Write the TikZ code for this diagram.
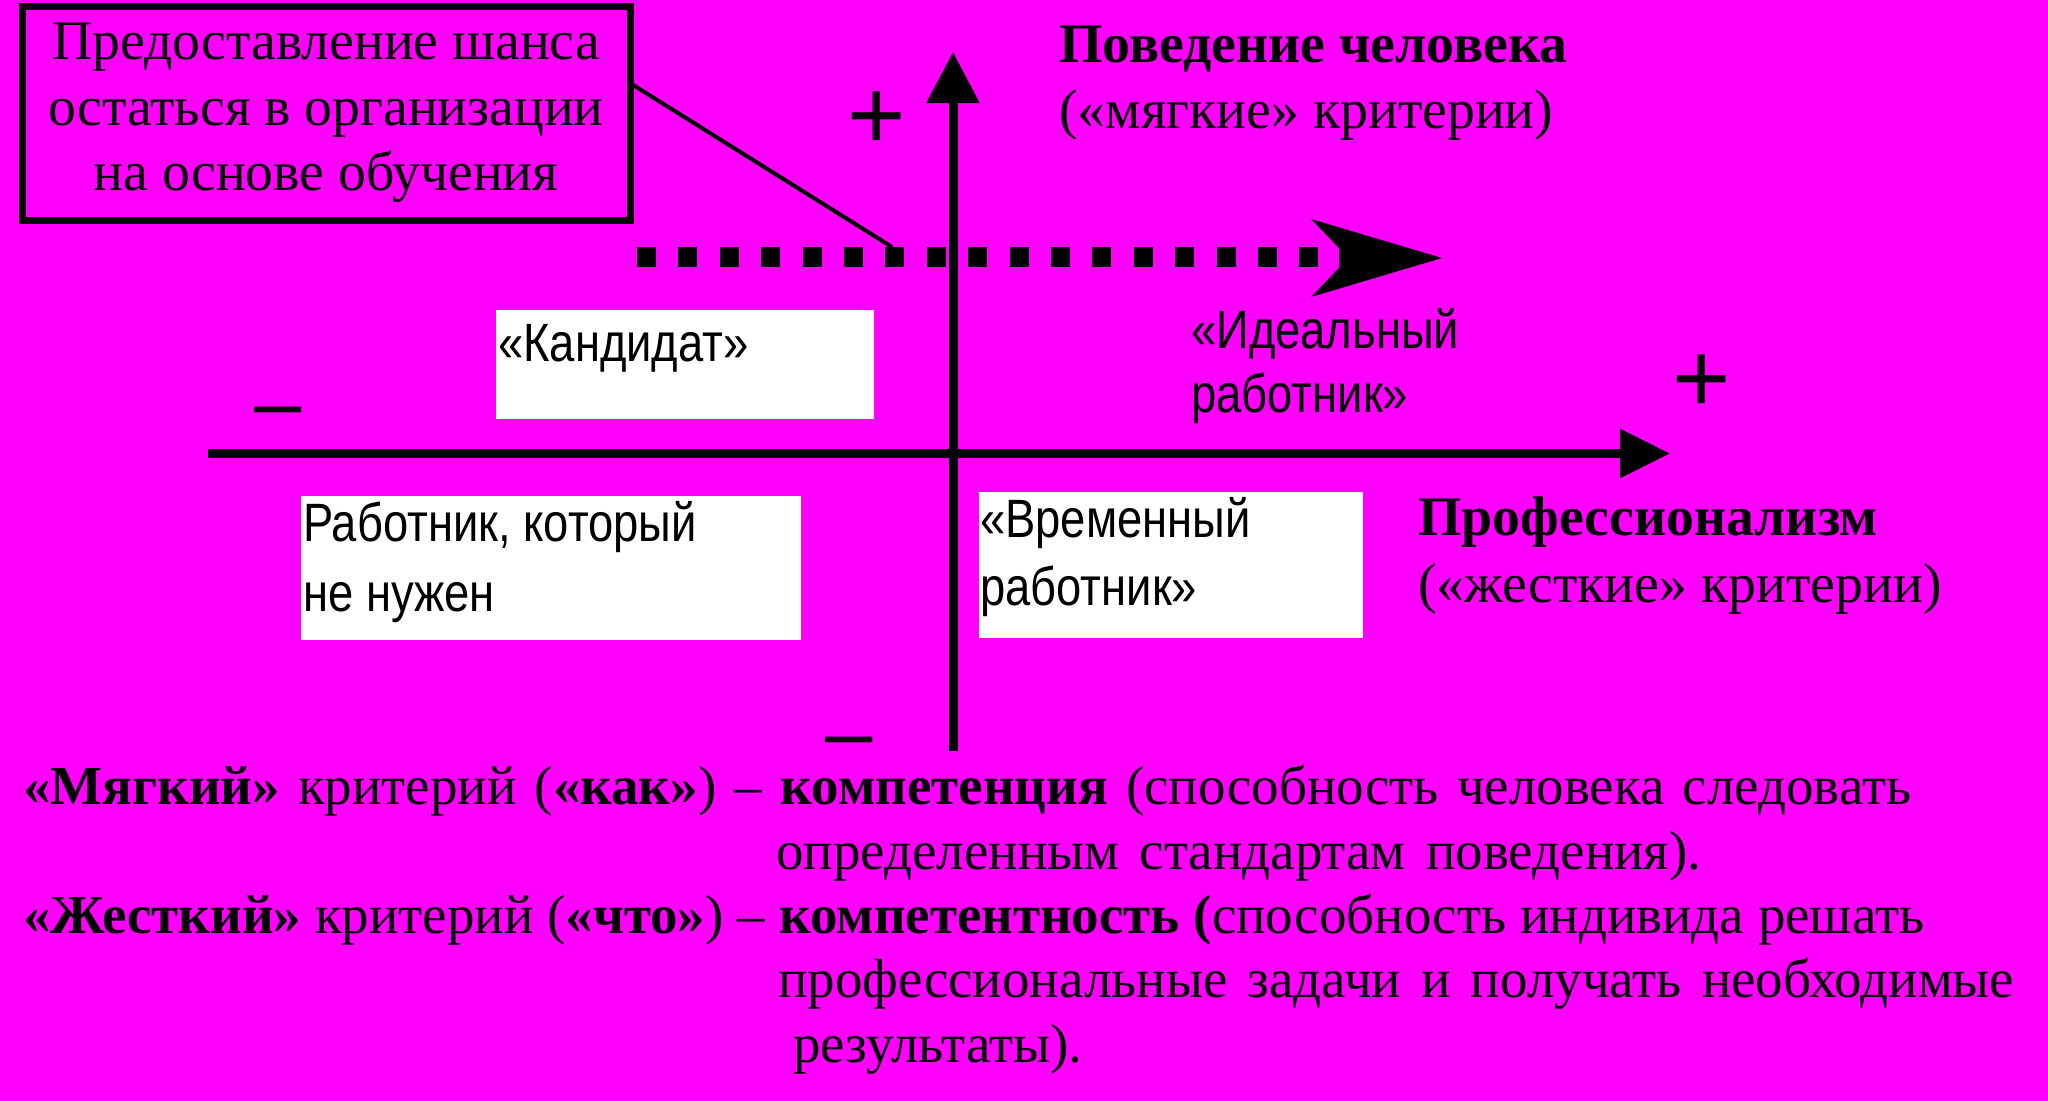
\documentclass[tikz,border=0pt]{standalone}
\usepackage{fontspec}
\setmainfont{Liberation Serif}
\newfontfamily\narrowsans[FakeStretch=0.84]{Liberation Sans}
\newfontfamily\signfont{Liberation Sans}
\usetikzlibrary{arrows.meta}
\definecolor{bgmag}{RGB}{255,0,255}
\tikzset{
  axisline/.style={line width=9pt},
  serif/.style={font=\fontsize{55}{66}\selectfont, inner sep=0pt, anchor=base west},
  axislab/.style={font=\fontsize{55.8}{66}\selectfont, inner sep=0pt, anchor=base west},
  axislabbold/.style={font=\bfseries\fontsize{55.8}{66}\selectfont, inner sep=0pt, anchor=base west},
  sanslab/.style={font=\narrowsans\fontsize{54}{68}\selectfont, inner sep=0pt, anchor=base west},
  whitebox/.style={fill=white, draw=none, inner sep=0pt, outer sep=0pt, anchor=north west},
  chancebox/.style={draw=black, line width=7pt, minimum width=608pt, minimum height=214pt,
    inner sep=0pt, outer sep=0pt, align=center, font=\fontsize{55.7}{65.5}\selectfont},
  sign/.style={font=\signfont\fontsize{100}{100}\selectfont, inner sep=0pt, anchor=north},
  signdash/.style={font=\signfont\fontsize{85}{85}\selectfont, inner sep=0pt, anchor=north},
  callout/.style={line width=4pt},
}
\begin{document}
\begin{tikzpicture}[x=1pt,y=-1pt]
\useasboundingbox (0,0) rectangle (2048,1101);
\fill[bgmag] (0,0) rectangle (2048,1101);
% white boxes
\node[whitebox, minimum width=378pt, minimum height=109pt] (candbox) at (496,310) {};
\node[whitebox, minimum width=500pt, minimum height=144pt] (notbox) at (301,496) {};
\node[whitebox, minimum width=384pt, minimum height=146pt] (tempbox) at (979,492) {};
% callout box
\node[chancebox] (chance) at (326,113) {Предоставление шанса\\остаться в организации\\на основе обучения};
% axes
\coordinate (vbot) at (953,751);
\coordinate (vtop) at (953,52);
\draw[axisline, -{Triangle[length=51pt,width=51pt]}] (vbot) -- (vtop);
\coordinate (hleft) at (208,453.5);
\coordinate (hright) at (1670,453.5);
\draw[axisline, -{Triangle[length=50pt,width=47pt]}] (hleft) -- (hright);
% dotted arrow
\coordinate (dstart) at (637,257);
\coordinate (dend) at (1319,257);
\draw[line width=20pt, dash pattern=on 19pt off 22.4pt] (dstart) -- (dend);
\fill (1311,219) -- (1442,258) -- (1311,297) -- (1339,268) -- (1339,248) -- cycle;
% callout line
\coordinate (calloutend) at (892,247);
\draw[callout] ([yshift=-77pt]chance.north east) -- (calloutend);
% signs
\node[sign] (plusv) at (877,92) {+};
\node[sign] (plush) at (1702,355) {+};
\node[signdash] (minush) at (278,407) {–};
\node[signdash] (minusv) at (849,737) {–};
% axis labels
\node[axislabbold] (beh) at (1059,62) {Поведение человека};
\node[axislab] (behsub) at (1059,128) {(«мягкие» критерии)};
\node[axislabbold] (prof) at (1418,535) {Профессионализм};
\node[axislab] (profsub) at (1418,602) {(«жесткие» критерии)};
% quadrant labels
\node[sanslab] (candtext) at (498,361) {«Кандидат»};
\node[sanslab] (idealA) at (1191,348) {«Идеальный};
\node[sanslab] (idealB) at (1191,412) {работник»};
\node[sanslab] (notA) at (303,541) {Работник, который};
\node[sanslab] (notB) at (303,611) {не нужен};
\node[sanslab] (tempA) at (980,537) {«Временный};
\node[sanslab] (tempB) at (980,605) {работник»};
% bottom text
\node[serif] (soft1) at (23,804) {\spaceskip=18.2pt\relax\textbf{«Мягкий»} критерий (\textbf{«как»}) – \textbf{компетенция} (способность человека следовать};
\node[serif] (soft2) at (776,869) {\spaceskip=20.5pt\relax определенным стандартам поведения).};
\node[serif] (hard1) at (23,933) {\textbf{«Жесткий»} критерий (\textbf{«что»}) – \textbf{компетентность (}способность индивида решать};
\node[serif] (hard2) at (778,997) {\spaceskip=20.2pt\relax профессиональные задачи и получать необходимые};
\node[serif] (hard3) at (793,1062) {результаты).};
\end{tikzpicture}
\end{document}
